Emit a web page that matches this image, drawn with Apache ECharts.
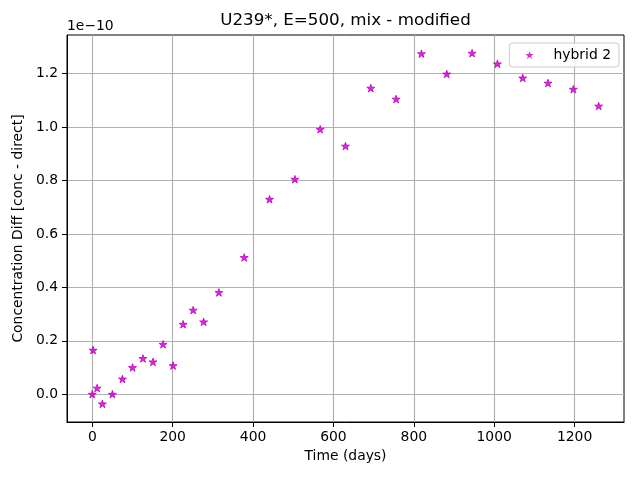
<!DOCTYPE html>
<html><head><meta charset="utf-8">
<script src="https://cdn.jsdelivr.net/npm/echarts@6/dist/echarts.min.js"></script>
<style>html,body{margin:0;padding:0;background:#fff}#c{width:640px;height:480px}</style>
</head><body><div id="c"></div>
<script>
const chartTitle = 'U239*, E=500, mix - modified';
const seriesName = 'hybrid 2';
const xAxisTitle = 'Time (days)';
const yAxisTitle = 'Concentration Diff [conc - direct]';
const offsetText = '1e\u221210';
const timeDays = [0, 2, 12, 25, 50, 75, 100, 126, 151, 176, 201, 226, 251, 277, 315, 378, 441, 504, 567, 630, 693, 756, 819, 882, 945, 1008, 1071, 1134, 1197, 1260];
// values in units of 1e-10
const concDiff = [0.000, 0.165, 0.023, -0.036, 0.000, 0.057, 0.100, 0.134, 0.121, 0.187, 0.107, 0.262, 0.315, 0.271, 0.381, 0.512, 0.730, 0.805, 0.992, 0.929, 1.146, 1.105, 1.275, 1.199, 1.277, 1.237, 1.184, 1.165, 1.142, 1.079];
const xTicks = [0, 200, 400, 600, 800, 1000, 1200];
const yTicks = [0.0, 0.2, 0.4, 0.6, 0.8, 1.0, 1.2];

const FONT = 'DejaVu Sans';
const MAGENTA = '#bf00bf';
const STAR = 'path://M0,-1L0.2245,-0.309L0.9511,-0.309L0.3633,0.118L0.5878,0.809L0,0.382L-0.5878,0.809L-0.3633,0.118L-0.9511,-0.309L-0.2245,-0.309Z';

const chart = echarts.init(document.getElementById('c'), null, {renderer: 'canvas'});
const points = timeDays.map((t, i) => [t, concDiff[i]]);

chart.setOption({
  animation: false,
  backgroundColor: '#ffffff',
  textStyle: {fontFamily: FONT, color: '#000'},
  grid: {left: 67, right: 16, top: 35, bottom: 58, show: true, borderColor: '#000', borderWidth: 1, containLabel: false},
  graphic: [
    {type: 'text', x: 345.5, y: 21, style: {text: chartTitle, fontFamily: FONT, fontSize: 16.7, fill: '#000', align: 'center', verticalAlign: 'middle'}},
    {type: 'text', x: 67, y: 26, style: {text: offsetText, fontFamily: FONT, fontSize: 13.9, fill: '#000', align: 'left', verticalAlign: 'middle'}}
  ],
  legend: {
    data: [{name: seriesName, icon: STAR, itemStyle: {color: MAGENTA, borderWidth: 0}}],
    right: 21, top: 43,
    orient: 'vertical',
    itemWidth: 38, itemHeight: 8,
    symbolKeepAspect: true,
    itemGap: 0,
    padding: [4, 8, 4, 16],
    borderColor: '#cccccc', borderWidth: 1, borderRadius: 3,
    backgroundColor: 'rgba(255,255,255,0.8)',
    textStyle: {fontFamily: FONT, fontSize: 13.9, color: '#000', lineHeight: 16}
  },
  xAxis: {
    type: 'value', min: -63, max: 1323,
    name: xAxisTitle, nameLocation: 'middle', nameGap: 27,
    nameTextStyle: {fontFamily: FONT, fontSize: 13.9, color: '#000'},
    axisLine: {show: true, onZero: false, lineStyle: {color: '#000', width: 1}},
    axisTick: {show: true, customValues: xTicks, length: 5, inside: false, lineStyle: {color: '#000', width: 1}},
    axisLabel: {customValues: xTicks, margin: 8, fontFamily: FONT, fontSize: 13.9, color: '#000', formatter: v => String(v)},
    splitLine: {show: true, lineStyle: {color: '#b0b0b0', width: 1.1}}
  },
  yAxis: {
    type: 'value', min: -0.104, max: 1.345,
    name: yAxisTitle, nameLocation: 'middle', nameGap: 35.5, nameRotate: 90,
    nameTextStyle: {fontFamily: FONT, fontSize: 13.9, color: '#000'},
    axisLine: {show: true, onZero: false, lineStyle: {color: '#000', width: 1}},
    axisTick: {show: true, customValues: yTicks, length: 5, inside: false, lineStyle: {color: '#000', width: 1}},
    axisLabel: {customValues: yTicks, margin: 9, fontFamily: FONT, fontSize: 13.9, color: '#000', formatter: v => v.toFixed(1)},
    splitLine: {show: true, lineStyle: {color: '#b0b0b0', width: 1.1}}
  },
  series: [{
    name: seriesName,
    type: 'scatter',
    data: points,
    symbol: STAR,
    symbolKeepAspect: true,
    symbolSize: 8,
    itemStyle: {color: MAGENTA, borderColor: MAGENTA, borderWidth: 1},
    z: 5
  }]
});
</script>
</body></html>
